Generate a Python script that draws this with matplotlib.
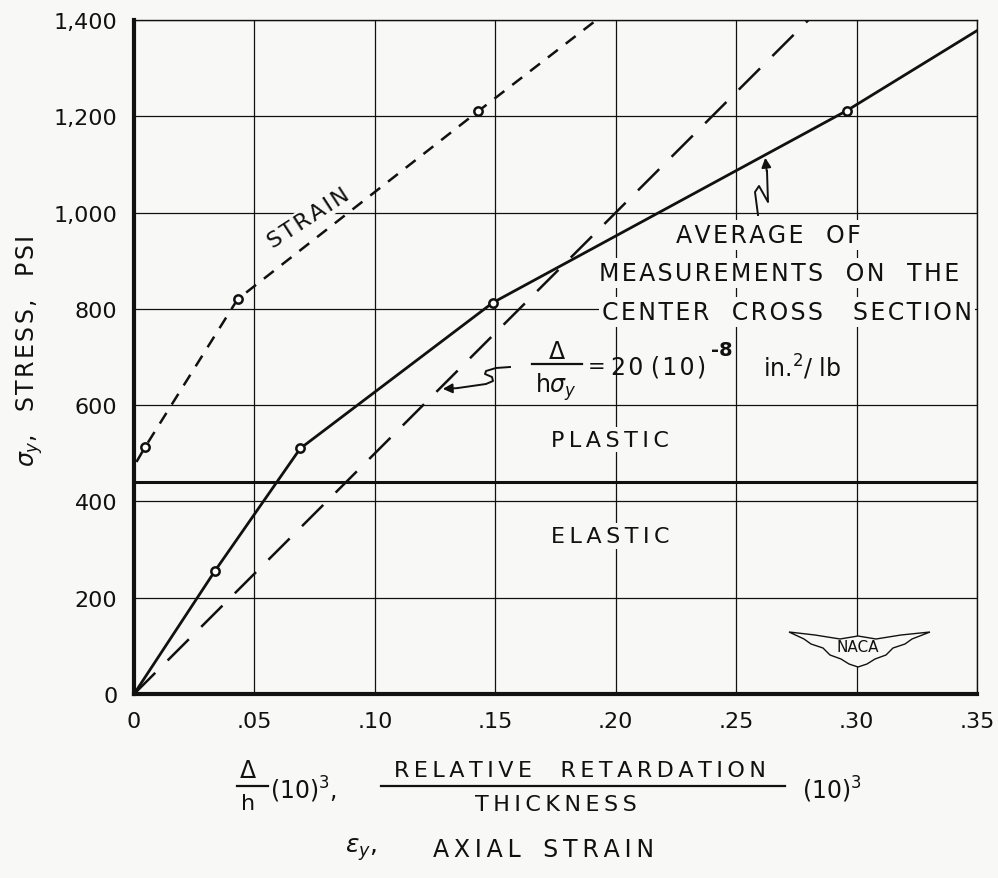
import numpy as np
import matplotlib
matplotlib.use("Agg")
import matplotlib.pyplot as plt
from matplotlib.lines import Line2D
from matplotlib.patches import Polygon

plt.rcParams['font.family'] = 'DejaVu Sans'
plt.rcParams['mathtext.fontset'] = 'dejavusans'

# average of measurements on the center cross section
avg_x = [0.0, 0.0335, 0.069, 0.149, 0.296, 0.35]
avg_y = [0, 255, 510, 813, 1212, 1378]
avg_pts_x = [0.0335, 0.069, 0.149, 0.296]
avg_pts_y = [255, 510, 813, 1212]

# strain gage curve
strain_x = [0.001, 0.0046, 0.043, 0.143, 0.192]
strain_y = [482, 513, 820, 1211, 1400]
strain_pts_x = [0.0046, 0.043, 0.143]
strain_pts_y = [513, 820, 1211]

# delta/(h sigma) = 20e-8 in^2/lb  ->  x = 2e-4 * sigma
calib_y = [0, 1400]
calib_x = [0.0, 0.28]

prop_limit = 440

xticks = [0, .05, .10, .15, .20, .25, .30, .35]
xlabels = ['0', '.05', '.10', '.15', '.20', '.25', '.30', '.35']
yticks = [0, 200, 400, 600, 800, 1000, 1200, 1400]
ylabels = ['0', '200', '400', '600', '800', '1,000', '1,200', '1,400']

ink = '#111111'
paper = '#f8f8f6'
W, H = 998, 879
THIN = '\u2009'
HAIR = '\u200a'


def fpx(x, y):
    # figure pixel (from top-left) -> figure fraction
    return x / W, 1 - y / H


def track(s, sp=THIN):
    # wide hand-lettering look: extra space between letters of each word
    return ' '.join(sp.join(w) if w else '' for w in s.split(' '))


fig = plt.figure(figsize=(W / 100, H / 100), dpi=100, facecolor=paper)
ax = fig.add_axes([0.1343, 0.2093, 0.8447, 0.7668], facecolor=paper)

ax.set_xlim(0, 0.35)
ax.set_ylim(0, 1400)
ax.set_xticks(xticks)
ax.set_xticklabels(xlabels, fontsize=16, color=ink)
ax.set_yticks(yticks)
ax.set_yticklabels(ylabels, fontsize=16, color=ink)
ax.tick_params(length=0, pad=12)
ax.grid(True, color=ink, lw=0.9)
for s in ['left', 'bottom']:
    ax.spines[s].set_linewidth(3)
for s in ['top', 'right']:
    ax.spines[s].set_linewidth(1.0)
for s in ax.spines.values():
    s.set_color(ink)

ax.axhline(prop_limit, color=ink, lw=2.2)

ax.plot(avg_x, avg_y, color=ink, lw=2)
ax.plot(avg_pts_x, avg_pts_y, 'o', ms=6, mfc='white', mec=ink, mew=1.8)

ax.plot(strain_x, strain_y, color=ink, lw=1.8, ls=(0, (5, 4)))
ax.plot(strain_pts_x, strain_pts_y, 'o', ms=6, mfc='white', mec=ink, mew=1.8)

ax.plot(calib_x, calib_y, color=ink, lw=1.8, ls=(0, (12, 7)))

# labels inside the plot
lbl = dict(fc=paper, ec='none', pad=2)
ax.text(0.0725, 990, track('STRAIN', HAIR), fontsize=16, rotation=33, color=ink,
        ha='center', va='center', bbox=dict(fc=paper, ec='none', pad=1))
fig.text(*fpx(768, 236), track('AVERAGE   OF', HAIR), fontsize=17, color=ink,
         ha='center', va='center', bbox=lbl)
fig.text(*fpx(779, 274), track('MEASUREMENTS   ON   THE', HAIR), fontsize=17,
         color=ink, ha='center', va='center', bbox=lbl)
fig.text(*fpx(787, 313), track('CENTER   CROSS    SECTION', HAIR), fontsize=17,
         color=ink, ha='center', va='center', bbox=lbl)

# delta / (h sigma_y) = 20 (10)^-8 in^2/lb
fig.text(*fpx(557, 352), r'$\Delta$', fontsize=17, color=ink, ha='center', va='center')
fig.add_artist(Line2D([532 / W, 582 / W], [1 - 365 / H] * 2, color=ink, lw=1.6))
fig.text(*fpx(556, 387), r'h$\sigma_y$', fontsize=17, color=ink, ha='center', va='center')
fig.text(*fpx(588, 367), '=', fontsize=15, color=ink, ha='left', va='center')
fig.text(*fpx(611, 368), track('20 (10)', HAIR), fontsize=17, color=ink,
         ha='left', va='center')
fig.text(*fpx(711, 350), '-8', fontsize=14, color=ink, ha='left', va='center',
         fontweight='bold')
fig.text(*fpx(763, 368), r'in.$^2$/ lb', fontsize=17, color=ink, ha='left', va='center')

ax.text(0.1977, 528, track('PLASTIC'), fontsize=16, color=ink, ha='center',
        va='center', bbox=lbl)
ax.text(0.1977, 328, track('ELASTIC'), fontsize=16, color=ink, ha='center',
        va='center', bbox=lbl)

# squiggle pointers
sq1 = [(758, 216), (755, 193), (759, 187), (768, 203), (767, 172)]
fig.add_artist(Line2D([p[0] / W for p in sq1], [1 - p[1] / H for p in sq1],
                      color=ink, lw=1.4))
ax.annotate('', xy=fpx(765, 156), xytext=fpx(767, 175), xycoords='figure fraction',
            textcoords='figure fraction',
            arrowprops=dict(arrowstyle='-|>', color=ink, lw=1.4, mutation_scale=14))
sq2 = [(510, 368), (496, 369), (486, 372), (485, 375), (492, 378), (493, 382),
       (486, 385), (472, 387), (458, 389)]
fig.add_artist(Line2D([p[0] / W for p in sq2], [1 - p[1] / H for p in sq2],
                      color=ink, lw=1.4))
ax.annotate('', xy=fpx(440, 390), xytext=fpx(460, 389), xycoords='figure fraction',
            textcoords='figure fraction',
            arrowprops=dict(arrowstyle='-|>', color=ink, lw=1.4, mutation_scale=14))

# NACA wing emblem
wing_px = [(789, 633), (815, 636), (840, 640), (858, 637), (876, 640), (901, 636),
           (930, 633), (912, 640), (905, 645), (893, 649), (886, 656), (875, 660),
           (867, 665), (858, 668), (849, 665), (841, 660), (830, 656), (823, 649),
           (811, 645), (804, 640)]
fig.add_artist(Polygon([fpx(x, y) for x, y in wing_px], closed=True, fc=paper,
                       ec=ink, lw=1.0, transform=fig.transFigure, zorder=4))
fig.text(*fpx(858, 648), 'NACA', fontsize=11, color=ink, ha='center', va='center',
         zorder=5)

# axis titles
fig.text(*fpx(30, 351), r'$\sigma_y$,   ' + track('STRESS,   PSI', HAIR), fontsize=17,
         color=ink, rotation=90, ha='center', va='center')

fig.text(*fpx(248, 771), r'$\Delta$', fontsize=17, color=ink, ha='center', va='center')
fig.add_artist(Line2D([237 / W, 268 / W], [1 - 787 / H] * 2, color=ink, lw=1.6))
fig.text(*fpx(248, 804), 'h', fontsize=16, color=ink, ha='center', va='center')
fig.text(*fpx(270, 790), r'(10)$^3$,', fontsize=17, color=ink, ha='left', va='center')
fig.text(*fpx(580, 771), track('RELATIVE    RETARDATION', THIN), fontsize=16,
         color=ink, ha='center', va='center')
fig.add_artist(Line2D([381 / W, 785 / W], [1 - 787 / H] * 2, color=ink, lw=1.6))
fig.text(*fpx(556, 805), track('THICKNESS'), fontsize=16, color=ink,
         ha='center', va='center')
fig.text(*fpx(802, 790), r'(10)$^3$', fontsize=17, color=ink, ha='left', va='center')

fig.text(*fpx(345, 850), r'$\varepsilon_y$,', fontsize=18, color=ink,
         ha='left', va='center')
fig.text(*fpx(433, 850), track('AXIAL   STRAIN', THIN), fontsize=17, color=ink,
         ha='left', va='center')

fig.savefig('out.png', dpi=100, facecolor=paper)
